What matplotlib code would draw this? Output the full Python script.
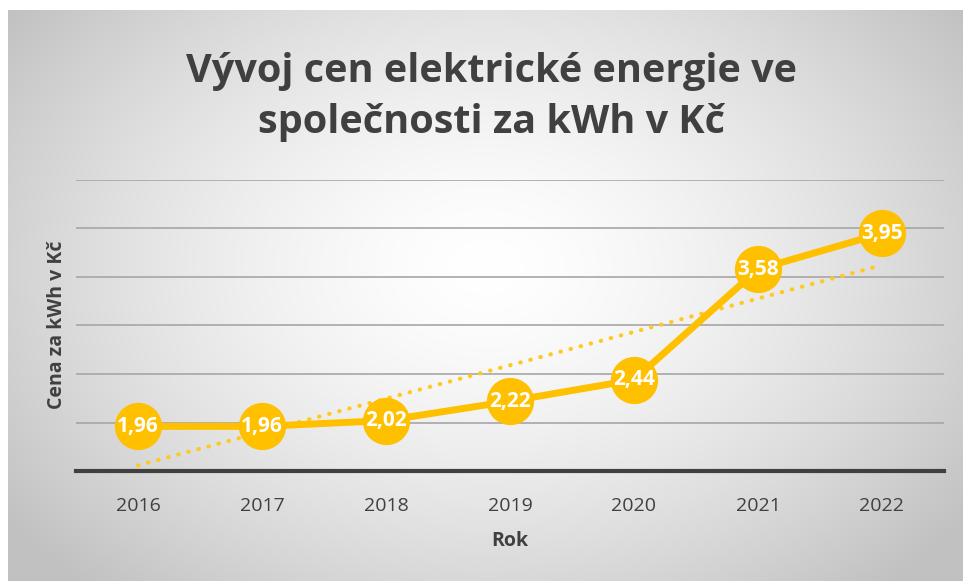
import numpy as np
import matplotlib
matplotlib.use("Agg")
import matplotlib.pyplot as plt

years = ["2016", "2017", "2018", "2019", "2020", "2021", "2022"]
prices = [1.96, 1.96, 2.02, 2.22, 2.44, 3.58, 3.95]
labels = ["1,96", "1,96", "2,02", "2,22", "2,44", "3,58", "3,95"]

title = "Vývoj cen elektrické energie ve\nspolečnosti za kWh v Kč"
ylabel = "Cena za kWh v Kč"
xlabel = "Rok"

W, H = 963, 581
fig = plt.figure(figsize=(W / 100, H / 100), dpi=100)
fig.patch.set_facecolor("white")
plt.rcParams['font.family'] = ['Open Sans', 'DejaVu Sans']

# background card with radial gradient
bx0, by0, bx1, by1 = 8, 10, 963, 581
bg = fig.add_axes([bx0 / W, 1 - by1 / H, (bx1 - bx0) / W, (by1 - by0) / H], zorder=0)
nx, ny = 400, 240
xx, yy = np.meshgrid(np.linspace(0, 1, nx), np.linspace(0, 1, ny))
cx, cy = 0.5, 0.55
r = np.sqrt(((xx - cx) / 0.62) ** 2 + ((yy - cy) / 0.75) ** 2)
r = np.clip(r, 0, 1)
val = 1.0 - 0.24 * r ** 1.5
img = np.dstack([val, val, val])
bg.imshow(img, aspect="auto", extent=[0, 1, 0, 1], origin="lower")
bg.set_axis_off()

# plot area
px0, px1 = 76, 944
py_top, py_bot = 180, 471
ax = fig.add_axes([px0 / W, 1 - py_bot / H, (px1 - px0) / W, (py_bot - py_top) / H], zorder=1)
ax.patch.set_alpha(0)
x = np.arange(len(years))
ax.set_xlim(-0.5, len(years) - 0.5)
ax.set_ylim(1.5, 4.5)
ax.set_yticks(np.arange(2.0, 4.51, 0.5))
ax.yaxis.grid(True, color="#a6a6a6", linewidth=1.2)
ax.set_axisbelow(True)
ax.tick_params(axis="y", left=False, labelleft=False)
ax.tick_params(axis="x", bottom=False, labelsize=14, labelcolor="#404040", pad=15)
ax.set_xticks(x)
ax.set_xticklabels(years)
for s in ["top", "right", "left"]:
    ax.spines[s].set_visible(False)
ax.spines["bottom"].set_color("#404040")
ax.spines["bottom"].set_linewidth(3)

# trend line (linear fit)
coef = np.polyfit(x, prices, 1)
trend = np.polyval(coef, x)
ax.plot(x, trend, color="#FFC91F", linewidth=3, linestyle=(0, (0.1, 2.4)),
        dash_capstyle="round", zorder=2)

ax.plot(x, prices, color="#FFC000", linewidth=5, marker="o", markersize=33,
        markerfacecolor="#FFC000", markeredgecolor="#FFC000", zorder=3, clip_on=False)
for xi, yi, lab in zip(x, prices, labels):
    ax.text(xi, yi, lab, ha="center", va="center", color="white",
            fontsize=15, fontweight="bold", zorder=4)

fig.text(492 / W, 1 - 97 / H, title, ha="center", va="center", fontsize=28.5,
         fontweight="bold", color="#404040", linespacing=1.42)
fig.text(57 / W, 1 - 325 / H, ylabel, rotation=90, ha="center", va="center",
         fontsize=14, fontweight="bold", color="#404040")
fig.text(510 / W, 1 - 541 / H, xlabel, ha="center", va="center",
         fontsize=14, fontweight="bold", color="#404040")

fig.savefig("out.png", dpi=100, facecolor="white")
